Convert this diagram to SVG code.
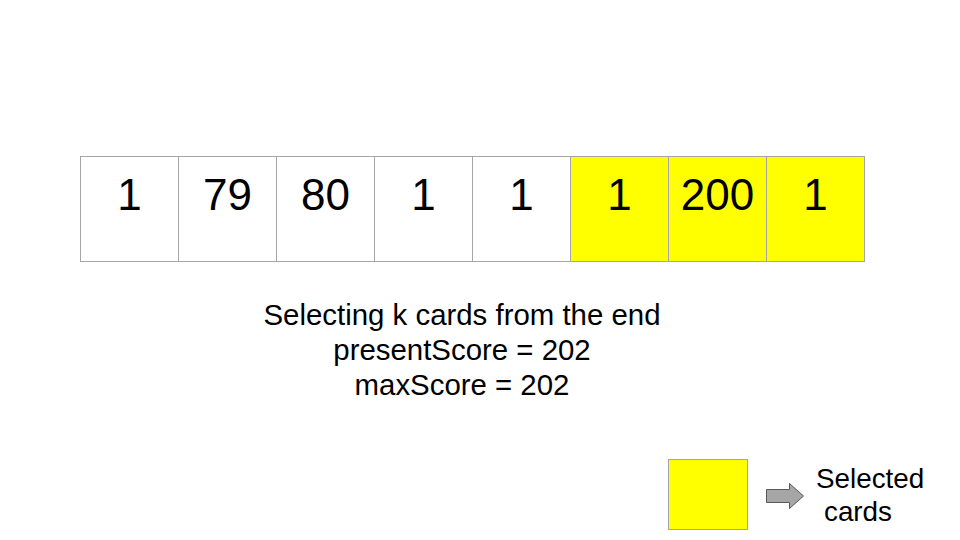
<svg xmlns="http://www.w3.org/2000/svg" width="960" height="540" viewBox="0 0 960 540">
<style>
.cell{stroke:#a6a6a6;stroke-width:1}
.w{fill:#ffffff}
.y{fill:#ffff00}
.num{font-family:"Liberation Sans",Arial,sans-serif;font-size:44px;fill:#000;text-anchor:middle}
.t{font-family:"Liberation Sans",Arial,sans-serif;font-size:29.4px;fill:#000;text-anchor:middle}
.l{font-family:"Liberation Sans",Arial,sans-serif;font-size:27.8px;fill:#000}
</style>
<rect width="960" height="540" fill="#ffffff"/>
<g id="cell1"><rect class="cell w" x="80.5" y="156.5" width="98" height="105"/><text class="num" x="129.5" y="210">1</text></g>
<g id="cell2"><rect class="cell w" x="178.5" y="156.5" width="98" height="105"/><text class="num" x="227.5" y="210">79</text></g>
<g id="cell3"><rect class="cell w" x="276.5" y="156.5" width="98" height="105"/><text class="num" x="325.5" y="210">80</text></g>
<g id="cell4"><rect class="cell w" x="374.5" y="156.5" width="98" height="105"/><text class="num" x="423.5" y="210">1</text></g>
<g id="cell5"><rect class="cell w" x="472.5" y="156.5" width="98" height="105"/><text class="num" x="521.5" y="210">1</text></g>
<g id="cell6"><rect class="cell y" x="570.5" y="156.5" width="98" height="105"/><text class="num" x="619.5" y="210">1</text></g>
<g id="cell7"><rect class="cell y" x="668.5" y="156.5" width="98" height="105"/><text class="num" x="717.5" y="210">200</text></g>
<g id="cell8"><rect class="cell y" x="766.5" y="156.5" width="98" height="105"/><text class="num" x="815.5" y="210">1</text></g>
<g id="caption">
<text class="t" x="462" y="325">Selecting k cards from the end</text>
<text class="t" x="462" y="360">presentScore = 202</text>
<text class="t" x="462" y="395">maxScore = 202</text>
</g>
<g id="legend">
<rect class="cell y" x="668.5" y="459.5" width="79" height="70"/>
<path d="M766.5,489.5 H789.5 V483.5 L803.5,496 L789.5,508.5 V502.5 H766.5 Z" fill="#a6a6a6" stroke="#595959" stroke-width="1"/>
<text class="l" x="816" y="488">Selected</text>
<text class="l" x="824" y="521">cards</text>
</g>
<g id="connectors"></g>
</svg>
